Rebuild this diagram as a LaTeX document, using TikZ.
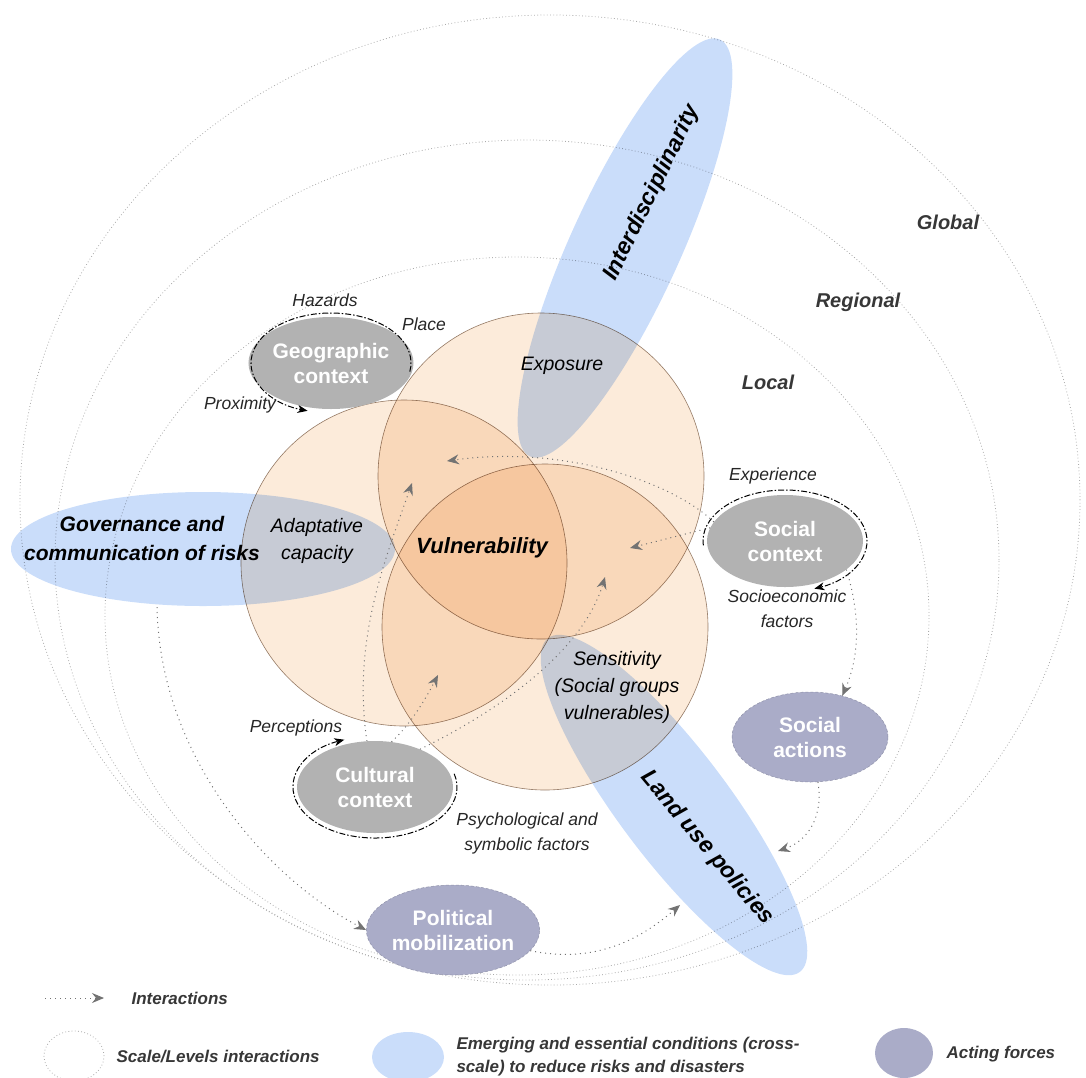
\documentclass[tikz,border=0pt]{standalone}
\usepackage{fontspec}
\setmainfont{Liberation Sans}
\usetikzlibrary{shapes.geometric,arrows.meta}
\definecolor{peach}{RGB}{252,235,218}
\definecolor{vennline}{RGB}{150,128,110}
\definecolor{crossblue}{RGB}{202,221,250}
\definecolor{ctxgrey}{RGB}{178,178,178}
\definecolor{forceblue}{RGB}{170,172,200}
\definecolor{intergrey}{RGB}{115,115,115}
\definecolor{levelgrey}{RGB}{170,170,170}
\definecolor{darktext}{RGB}{55,55,55}
\newcommand{\fsz}[2]{\fontsize{#1}{#2}\selectfont}

\begin{document}
\begin{tikzpicture}[x=1pt, y=-1pt,
	venn/.style={fill=peach, draw=vennline, line width=0.6pt},
	cross/.style={fill=crossblue},
	level/.style={draw=levelgrey, line width=0.8pt, dash pattern=on 0.8pt off 2.4pt},
	ctx/.style={ellipse, fill=ctxgrey, text=white, align=center, inner sep=0pt,
		font=\fsz{21}{25}\bfseries, minimum width=156pt, minimum height=92pt},
	force/.style={ellipse, fill=forceblue, draw=forceblue!85!black, densely dashed,
		line width=0.5pt, text=white, align=center, inner sep=0pt,
		font=\fsz{21}{25}\bfseries, minimum width=156pt, minimum height=90pt},
	loopline/.style={draw=black, line width=1pt, dash pattern=on 6pt off 2pt on 1.5pt off 2pt,
		-{Stealth[length=10pt, width=8pt, inset=3pt]}},
	inter/.style={draw=intergrey, line width=1pt, dash pattern=on 1pt off 4pt,
		-{Stealth[length=12pt, width=10pt, inset=4pt, fill=intergrey]}},
	lbl/.style={font=\fsz{17.5}{25}\itshape, align=center, text=black!85},
	venntext/.style={font=\fsz{19.5}{27}\itshape, align=center},
	bigtext/.style={font=\fsz{23}{29}\bfseries\itshape, align=center},
	scaletext/.style={font=\fsz{20}{24}\bfseries\itshape, text=darktext},
	legtext/.style={font=\fsz{17}{23}\bfseries\itshape, text=darktext, align=left, anchor=west}]
\useasboundingbox (0,0) rectangle (1086,1077);

\draw[level] (550,500) ellipse [x radius=530pt, y radius=485pt];
\draw[level] (527,560) ellipse [x radius=472pt, y radius=420pt];
\draw[level] (517,616) ellipse [x radius=412pt, y radius=359pt];

\begin{scope}[blend mode=multiply]
	\draw[venn] (541,476) circle [radius=163pt];
	\draw[venn] (404,563) circle [radius=163pt];
	\draw[venn] (545,627) circle [radius=163pt];
	\fill[cross, rotate around={65.5:(625,248)}] (625,248) ellipse [x radius=229pt, y radius=55pt];
	\fill[cross] (203,549) ellipse [x radius=192pt, y radius=57pt];
	\fill[cross, rotate around={-53:(674,805)}] (674,805) ellipse [x radius=209pt, y radius=55pt];
\end{scope}

\node[venntext] (expo) at (562,366) {Exposure};
\node[venntext] (adap) at (317,541) {Adaptative\\capacity};
\node[venntext] (sens) at (617,687) {Sensitivity\\(Social groups\\vulnerables)};
\node[font=\fsz{22}{26}\bfseries\itshape] (vuln) at (482,548) {Vulnerability};
\node[bigtext, font=\fsz{21}{29}\bfseries\itshape] (gov) at (142,538) {Governance and\\communication of risks};
\node[bigtext, rotate=64] (inter) at (652,193) {Interdisciplinarity};
\node[bigtext, rotate=-50] (land) at (707,848) {Land use policies};

\node[scaletext] (global) at (948,222) {Global};
\node[scaletext] (regional) at (858,302) {Regional};
\node[scaletext] (local) at (768,382) {Local};

\node[ctx] (geo) at (331,363) {Geographic\\context};
\node[ctx] (soc) at (785,541) {Social\\context};
\node[ctx] (cul) at (375,787) {Cultural\\context};
\node[force] (act) at (810,737) {Social\\actions};
\node[force] (pol) at (453,930) {Political\\mobilization};

\draw[loopline] ([shift={(-10:80pt and 50pt)}]geo.center) arc [start angle=-10, end angle=253, x radius=80pt, y radius=50pt];
\draw[loopline] ([shift={(185:82pt and 51pt)}]soc.center) arc [start angle=185, end angle=-69, x radius=82pt, y radius=51pt];
\draw[loopline] ([shift={(15:82pt and 51pt)}]cul.center) arc [start angle=15, end angle=-248, x radius=82pt, y radius=51pt];

\node[lbl] (haz) at (325,300) {Hazards};
\node[lbl] (place) at (424,324) {Place};
\node[lbl] (prox) at (240,405) {Proximity};
\node[lbl] (exper) at (773,476) {Experience};
\node[lbl] (socio) at (787,609) {Socioeconomic\\factors};
\node[lbl] (perc) at (296,728) {Perceptions};
\node[lbl] (psych) at (527,833) {Psychological and\\symbolic factors};

\coordinate (govfoot) at (157,607);
\coordinate (landtop) at (778,851);
\coordinate (landside) at (680,905);
\coordinate (expA) at (447,461);
\coordinate (expB) at (630,548);
\coordinate (senA) at (605,577);
\coordinate (adaA) at (412,483);
\coordinate (adaB) at (438,675);

\draw[inter] (soc.-25) .. controls (862,620) and (858,660) .. (act.52);
\draw[inter] (act.-80) .. controls (824,820) and (805,842) .. (landtop);
\draw[inter] (pol.-15) .. controls (600,965) and (645,935) .. (landside);
\draw[inter] (govfoot) .. controls (160,760) and (270,880) .. (pol.180);
\draw[inter] (soc.165) .. controls (670,480) and (560,445) .. (expA);
\draw[inter] (soc.170) -- (expB);
\draw[inter] (cul.40) .. controls (480,720) and (580,660) .. (senA);
\draw[inter] (cul.70) .. controls (410,725) and (425,700) .. (adaB);
\draw[inter] (cul.100) .. controls (352,640) and (385,560) .. (adaA);

\coordinate (legS) at (45,998);
\coordinate (legE) at (104,998);
\draw[inter] (legS) -- (legE);
\node[legtext] (legint) at (128,998) {Interactions};
\node[ellipse, level, minimum width=60pt, minimum height=50pt] (legscale) at (74,1056) {};
\node[legtext] (legscaletxt) at (113,1056) {Scale/Levels interactions};
\node[ellipse, cross, minimum width=72pt, minimum height=50pt] (legcross) at (408,1057) {};
\node[legtext] (legcrosstxt) at (453,1057) {Emerging and essential conditions (cross-\\scale) to reduce risks and disasters};
\node[ellipse, fill=forceblue, minimum width=58pt, minimum height=50pt] (legforce) at (904,1053) {};
\node[legtext] (legforcetxt) at (943,1054) {Acting forces};
\end{tikzpicture}
\end{document}
